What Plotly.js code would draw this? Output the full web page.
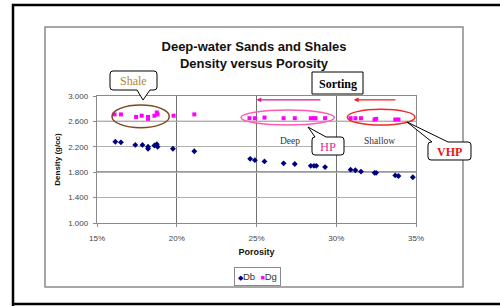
<!DOCTYPE html>
<html>
<head>
<meta charset="utf-8">
<script src="https://cdn.plot.ly/plotly-3.0.1.min.js"></script>
<style>
html,body{margin:0;padding:0;background:#fff;}
#chart{width:500px;height:306px;}
</style>
</head>
<body>
<div id="chart"></div>
<script>
// ---- data ----
var porosityDb = [16.15, 16.5, 17.4, 17.85, 18.2, 18.2, 18.6, 18.75, 18.8, 19.76, 21.1,
                  24.6, 24.9, 25.5, 26.7, 27.4, 28.4, 28.6, 28.75, 29.3,
                  30.9, 31.2, 31.55, 32.4, 32.5, 33.7, 33.9, 34.8];
var densityDb  = [2.28, 2.27, 2.23, 2.23, 2.20, 2.17, 2.22, 2.24, 2.20, 2.17, 2.13,
                  2.01, 1.99, 1.97, 1.94, 1.93, 1.90, 1.90, 1.90, 1.88,
                  1.84, 1.83, 1.81, 1.79, 1.79, 1.75, 1.74, 1.72];
var porosityDg = [16.1, 16.5, 17.45, 17.8, 18.2, 18.2, 18.6, 18.75, 18.8, 19.8, 21.1,
                  24.56, 24.9, 25.5, 26.7, 27.4, 28.4, 28.6, 28.7, 29.3,
                  30.9, 31.2, 31.55, 32.4, 32.5, 33.7, 33.9];
var densityDg  = [2.71, 2.71, 2.67, 2.69, 2.67, 2.64, 2.69, 2.74, 2.71, 2.69, 2.71,
                  2.65, 2.65, 2.66, 2.65, 2.65, 2.65, 2.65, 2.65, 2.65,
                  2.65, 2.65, 2.65, 2.63, 2.64, 2.63, 2.63];
var seriesNames = ["Db", "Dg"];
var seriesColors = ["#000080", "#ff00ff"];
var yTickVals = [1.0, 1.4, 1.8, 2.2, 2.6, 3.0];
var xTickVals = [15, 20, 25, 30, 35];

// ---- geometry helpers (pixel -> paper) ----
var W = 500, H = 306, L = 97, R = 416, T = 96, B = 223;
function px(x){ return (x - L) / (R - L); }
function py(y){ return (B - y) / (B - T); }
function P(x, y){ return px(x).toFixed(4) + "," + py(y).toFixed(4); }

function callout(x0, y0, x1, y1, r, tail){
  var s = "M" + P(x0 + r, y0);
  if (tail.side === "top"){
    s += " L" + P(tail.a, y0) + " L" + P(tail.tx, tail.ty) + " L" + P(tail.b, y0);
  }
  s += " L" + P(x1 - r, y0) + " Q" + P(x1, y0) + " " + P(x1, y0 + r);
  s += " L" + P(x1, y1 - r) + " Q" + P(x1, y1) + " " + P(x1 - r, y1);
  if (tail.side === "bottom"){
    s += " L" + P(tail.b, y1) + " L" + P(tail.tx, tail.ty) + " L" + P(tail.a, y1);
  }
  s += " L" + P(x0 + r, y1) + " Q" + P(x0, y1) + " " + P(x0, y1 - r);
  s += " L" + P(x0, y0 + r) + " Q" + P(x0, y0) + " " + P(x0 + r, y0) + " Z";
  return s;
}

var sans = "Liberation Sans, Arial, sans-serif";
var serif = "Liberation Serif, Times New Roman, serif";

var traces = [
  {x: porosityDb, y: densityDb, name: seriesNames[0], type: "scatter", mode: "markers",
   marker: {symbol: "diamond", size: 4.5, color: seriesColors[0]}},
  {x: porosityDg, y: densityDg, name: seriesNames[1], type: "scatter", mode: "markers",
   marker: {symbol: "square", size: 4, color: seriesColors[1]}}
];

var shapes = [
  // outer black frame
  {type: "path", xref: "paper", yref: "paper", layer: "below",
   path: "M" + P(13, 320) + " L" + P(13, 5) + " L" + P(520, 5),
   line: {color: "#000", width: 2.5}},
  {type: "line", xref: "paper", yref: "paper", layer: "below",
   x0: px(12), x1: px(520), y0: py(304), y1: py(304), line: {color: "#000", width: 2.5}},
  // gray chart-area box
  {type: "rect", xref: "paper", yref: "paper", layer: "below",
   x0: px(45), x1: px(463), y0: py(27), y1: py(287), line: {color: "#8a8a8a", width: 1.5}},
  // emphasised grid lines
  {type: "line", xref: "paper", yref: "y", layer: "below", x0: 0, x1: 1, y0: 2.6, y1: 2.6,
   line: {color: "#7a7a7a", width: 1.2}},
  {type: "line", xref: "paper", yref: "y", layer: "below", x0: 0, x1: 1, y0: 1.8, y1: 1.8,
   line: {color: "#3a3a3a", width: 1.3}},
  // ellipses
  {type: "circle", xref: "x", yref: "y", x0: 15.94, x1: 19.53, y0: 2.50, y1: 2.858,
   line: {color: "#7b4a1c", width: 1.5}},
  {type: "circle", xref: "x", yref: "y", x0: 24.03, x1: 29.88, y0: 2.543, y1: 2.78,
   line: {color: "#ff5cb0", width: 1.5}},
  {type: "circle", xref: "x", yref: "y", x0: 30.69, x1: 34.94, y0: 2.543, y1: 2.79,
   line: {color: "#f02828", width: 1.5}},
  // callout boxes
  {type: "path", xref: "paper", yref: "paper", fillcolor: "#fff",
   path: callout(110, 71, 157, 90, 3, {side: "bottom", a: 137, b: 150, tx: 143, ty: 100}),
   line: {color: "#000", width: 1}},
  {type: "rect", xref: "paper", yref: "paper", fillcolor: "#fff",
   x0: px(312), x1: px(363), y0: py(72), y1: py(94), line: {color: "#000", width: 1}},
  {type: "path", xref: "paper", yref: "paper", fillcolor: "#fff",
   path: callout(312, 137, 344, 155, 3, {side: "top", a: 315, b: 326, tx: 308, ty: 127}),
   line: {color: "#000", width: 1}},
  {type: "path", xref: "paper", yref: "paper", fillcolor: "#fff",
   path: callout(428, 142, 471, 160, 3, {side: "top", a: 432, b: 448, tx: 407, ty: 122}),
   line: {color: "#000", width: 1}}
];

function label(xpx, ypx, text, font){
  return {xref: "paper", yref: "paper", x: px(xpx), y: py(ypx), xanchor: "center", yanchor: "middle",
          text: text, showarrow: false, font: font};
}

var annotations = [
  label(133.5, 80.5, "Shale", {family: serif, size: 12, color: "#b5862c"}),
  label(337.5, 83.5, "<b>Sorting</b>", {family: serif, size: 12, color: "#000"}),
  label(289.5, 141, "Deep", {family: serif, size: 9.5, color: "#333"}),
  label(379.5, 141, "Shallow", {family: serif, size: 9.5, color: "#333"}),
  label(328, 146.5, "HP", {family: serif, size: 12.5, color: "#e0309a"}),
  label(450, 151.5, "<b>VHP</b>", {family: serif, size: 12, color: "#e8141a"}),
  // legend box
  {xref: "paper", yref: "paper", x: px(257.5), y: py(276.5), xanchor: "center", yanchor: "middle",
   showarrow: false, bordercolor: "#8a8a8a", borderwidth: 1, borderpad: 3, bgcolor: "#fff",
   text: "<span style='color:" + seriesColors[0] + ";font-size:7px'>◆</span>" + seriesNames[0] +
         "  <span style='color:" + seriesColors[1] + ";font-size:7px'>■</span>" + seriesNames[1],
   font: {family: sans, size: 9.5, color: "#333"}},
  // sorting arrows
  {xref: "x", yref: "y", axref: "x", ayref: "y", x: 25.0, y: 2.94, ax: 29.1, ay: 2.94, text: "",
   showarrow: true, arrowhead: 2, arrowsize: 0.8, arrowwidth: 1.2, arrowcolor: "#d01aa0"},
  {xref: "x", yref: "y", axref: "x", ayref: "y", x: 31.1, y: 2.94, ax: 33.8, ay: 2.94, text: "",
   showarrow: true, arrowhead: 2, arrowsize: 0.8, arrowwidth: 1.2, arrowcolor: "#f02020"}
];

var layout = {
  width: W, height: H,
  margin: {l: L, r: W - R, t: T, b: H - B, pad: 0},
  paper_bgcolor: "#fff", plot_bgcolor: "#fff",
  font: {family: sans, size: 8, color: "#444"},
  title: {text: "<b>Deep-water Sands and Shales<br>Density versus Porosity</b>",
          font: {family: sans, size: 13, color: "#111"},
          xref: "container", yref: "container", x: 0.508, xanchor: "center",
          y: 1 - 51 / H, yanchor: "middle"},
  xaxis: {range: [15, 35], tickvals: xTickVals, ticktext: xTickVals.map(function(v){ return v + "%"; }),
          showgrid: true, gridcolor: "#707070", gridwidth: 1.2,
          showline: true, linecolor: "#8a8a8a", linewidth: 1.2, mirror: true,
          ticks: "outside", ticklen: 3, tickcolor: "#8a8a8a", ticklabelstandoff: 4,
          zeroline: false, tickfont: {family: sans, size: 8, color: "#444"},
          title: {text: "<b>Porosity</b>", standoff: 7, font: {family: sans, size: 9, color: "#111"}}},
  yaxis: {range: [1, 3], tickvals: yTickVals, ticktext: yTickVals.map(function(v){ return v.toFixed(3); }),
          showgrid: true, gridcolor: "#b0b0b0", gridwidth: 1.2,
          showline: true, linecolor: "#8a8a8a", linewidth: 1.2, mirror: true,
          ticks: "outside", ticklen: 3, tickcolor: "#8a8a8a", ticklabelstandoff: 3,
          zeroline: false, tickfont: {family: sans, size: 8, color: "#444"},
          title: {text: "<b>Density (g/cc)</b>", standoff: 6, font: {family: sans, size: 8, color: "#111"}}},
  showlegend: false,
  shapes: shapes,
  annotations: annotations
};

Plotly.newPlot("chart", traces, layout, {staticPlot: true, displayModeBar: false});
</script>
</body>
</html>
